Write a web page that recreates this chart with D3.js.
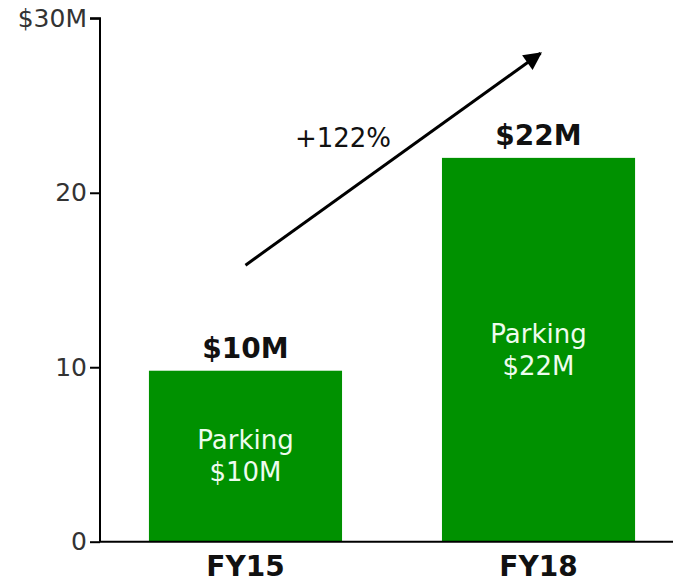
<!DOCTYPE html>
<html>
<head>
<meta charset="utf-8">
<script src="https://cdnjs.cloudflare.com/ajax/libs/d3/7.8.5/d3.min.js"></script>
<style>
  body { margin: 0; background: #fff; }
  svg { display: block; font-family: Verdana, "DejaVu Sans", sans-serif; }
</style>
</head>
<body>
<div id="chart"></div>
<script>
var years = ["FY15", "FY18"];
var values = [9.8, 22];
var topLabels = ["$10M", "$22M"];
var innerLabels = ["$10M", "$22M"];
var yTicks = [0, 10, 20, 30];
var yTickLabels = ["0", "10", "20", "$30M"];
var growthLabel = "+122%";

var width = 673, height = 582;

var svg = d3.select("#chart").append("svg")
    .attr("width", width)
    .attr("height", height);

var x = d3.scaleBand()
    .domain(years)
    .range([100, 684])
    .paddingInner(0.341)
    .paddingOuter(0.167);

var y = d3.scaleLinear()
    .domain([0, 30])
    .range([541.7, 18.3]);

// bars
svg.selectAll("rect.bar")
    .data(values)
    .join("rect")
    .attr("class", "bar")
    .attr("x", function(d, i) { return x(years[i]); })
    .attr("y", function(d) { return y(d); })
    .attr("width", x.bandwidth())
    .attr("height", function(d) { return y(0) - y(d); })
    .style("fill", "#009100");

// y axis
var yAxis = svg.append("g")
    .attr("transform", "translate(100,0)")
    .call(d3.axisLeft(y)
        .tickValues(yTicks)
        .tickSize(10)
        .tickPadding(3)
        .tickFormat(function(d, i) { return yTickLabels[i]; }));
yAxis.select(".domain").attr("d", "M-10," + y(30) + "H0V" + y(0)).style("stroke", "#000").style("stroke-width", 2);
yAxis.selectAll(".tick line").style("stroke", "#000").style("stroke-width", 2);
yAxis.selectAll(".tick text")
    .style("font-family", "Verdana, 'DejaVu Sans', sans-serif")
    .style("font-size", "25px")
    .style("fill", "#333");

// x axis
var xAxis = svg.append("g")
    .attr("transform", "translate(0," + y(0) + ")")
    .call(d3.axisBottom(x).tickSize(0).tickPadding(14));
xAxis.select(".domain").attr("d", "M100,0H" + width).style("stroke", "#000").style("stroke-width", 2);
xAxis.selectAll(".tick text")
    .style("font-family", "Verdana, 'DejaVu Sans', sans-serif")
    .style("font-size", "28px")
    .style("font-weight", "bold")
    .style("fill", "#111")
    .attr("dy", "0.71em");

// labels above bars
svg.selectAll("text.top")
    .data(values)
    .join("text")
    .attr("class", "top")
    .attr("x", function(d, i) { return x(years[i]) + x.bandwidth() / 2; })
    .attr("y", function(d) { return y(d) - 13; })
    .attr("text-anchor", "middle")
    .style("font-size", "28px")
    .style("font-weight", "bold")
    .style("fill", "#111")
    .text(function(d, i) { return topLabels[i]; });

// labels inside bars
var inner = svg.selectAll("text.inner")
    .data(values)
    .join("text")
    .attr("class", "inner")
    .attr("text-anchor", "middle")
    .style("font-size", "26px")
    .style("fill", "#eefcee")
    .attr("transform", function(d, i) {
        return "translate(" + (x(years[i]) + x.bandwidth() / 2) + "," + ((y(d) + y(0)) / 2) + ")";
    });
inner.append("tspan").attr("x", 0).attr("y", -7).text("Parking");
inner.append("tspan").attr("x", 0).attr("y", 25).text(function(d, i) { return innerLabels[i]; });

// growth arrow
svg.append("defs").append("marker")
    .attr("id", "head")
    .attr("viewBox", "0 0 10 10")
    .attr("refX", 9)
    .attr("refY", 5)
    .attr("markerWidth", 6.5)
    .attr("markerHeight", 6)
    .attr("orient", "auto")
    .append("path")
    .attr("d", "M0,0L10,5L0,10z")
    .style("fill", "#000");

var x0 = x("FY15") + x.bandwidth() / 2, x1 = x("FY18") + x.bandwidth() / 2;
svg.append("line")
    .attr("x1", x0)
    .attr("y1", y(15.85))
    .attr("x2", x1 + 2)
    .attr("y2", y(28))
    .style("stroke", "#000")
    .style("stroke-width", 3)
    .attr("marker-end", "url(#head)");

svg.append("text")
    .attr("x", (x0 + x1) / 2 - 49)
    .attr("y", y(22.6))
    .attr("text-anchor", "middle")
    .style("font-size", "26px")
    .style("fill", "#111")
    .text(growthLabel);
</script>
</body>
</html>
